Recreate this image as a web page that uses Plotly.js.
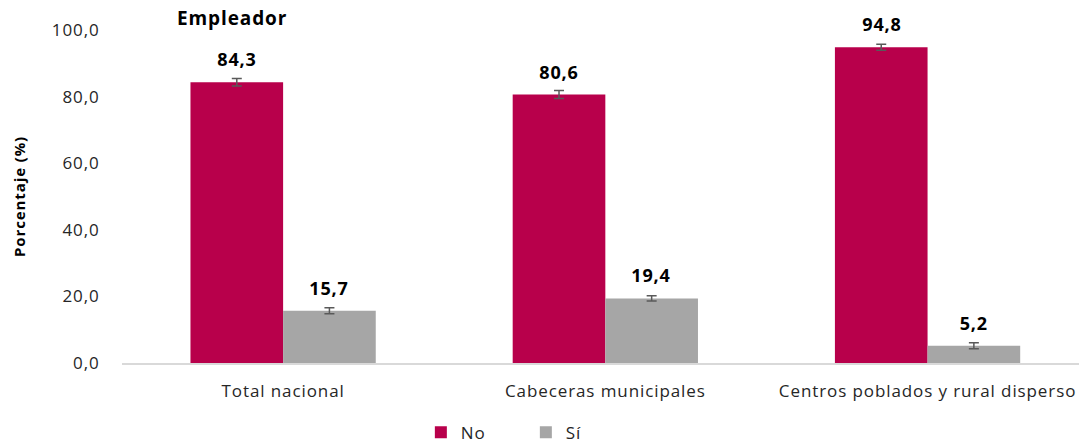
<!DOCTYPE html>
<html><head><meta charset="utf-8">
<script src="https://cdn.plot.ly/plotly-3.0.1.min.js"></script>
<style>html,body{margin:0;padding:0;background:#fff}#c{width:1079px;height:447px}
#c text{letter-spacing:0.9px}</style>
</head><body><div id="c"></div>
<script>
const categories = ["Total nacional", "Cabeceras municipales", "Centros poblados y rural disperso"];
const seriesNames = ["No", "Sí"];
const noValues = [84.3, 80.6, 94.8];
const siValues = [15.7, 19.4, 5.2];
const noErrors = [1.1, 1.2, 0.9];
const siErrors = [0.9, 0.8, 0.9];
const yTicks = [0, 20, 40, 60, 80, 100];
const yTickLabels = ["0,0", "20,0", "40,0", "60,0", "80,0", "100,0"];
const fmt = v => v.toFixed(1).replace(".", ",");

const colors = ["#B8004B", "#A6A6A6"];
const font = "'Open Sans', 'Noto Sans', sans-serif";

const traces = [
  {type: "bar", name: seriesNames[0], x: categories, y: noValues, marker: {color: colors[0]},
   error_y: {type: "data", array: noErrors, visible: true, color: "#595959", thickness: 1.5, width: 5}},
  {type: "bar", name: seriesNames[1], x: categories, y: siValues, marker: {color: colors[1]},
   error_y: {type: "data", array: siErrors, visible: true, color: "#595959", thickness: 1.5, width: 5}}
];

const annotations = [];
[noValues, siValues].forEach((vals, s) => {
  vals.forEach((v, i) => {
    annotations.push({x: categories[i], y: v, xref: "x", yref: "y", text: "<b>" + fmt(v) + "</b>",
      showarrow: false, yanchor: "bottom", yshift: 9, xshift: s === 0 ? -46 : 46,
      font: {family: font, size: 18, color: "#000"}});
  });
});
annotations.push({xref: "paper", yref: "paper", x: 0.06, y: 1, yanchor: "bottom", yshift: -3, xanchor: "left",
  text: "<b>Empleador</b>", showarrow: false, font: {family: font, size: 19, color: "#000"}});

const layout = {
  width: 1079, height: 447,
  margin: {l: 122, r: 0, t: 30, b: 84, autoexpand: false},
  paper_bgcolor: "#fff", plot_bgcolor: "#fff",
  barmode: "group", bargap: 0.425, bargroupgap: 0,
  font: {family: font, size: 17, color: "#262626"},
  xaxis: {range: [-0.5, 2.47], showgrid: false, showline: true, linecolor: "#D9D9D9", linewidth: 1.5,
    ticks: "outside", ticklen: 12, tickcolor: "rgba(0,0,0,0)", tickfont: {size: 17, color: "#262626"}, fixedrange: true},
  yaxis: {range: [0, 100], tickvals: yTicks, ticktext: yTickLabels, showgrid: false, zeroline: false, showline: false,
    ticks: "outside", ticklen: 18, tickcolor: "rgba(0,0,0,0)", tickfont: {size: 17, color: "#262626"},
    title: {text: "<b>Porcentaje (%)</b>", font: {size: 15, color: "#000"}, standoff: 27}},
  legend: {orientation: "h", x: 0.422, xanchor: "center", y: -0.155, yanchor: "top",
    entrywidth: 60, font: {size: 17, color: "#262626"}},
  annotations: annotations,
  showlegend: true
};
Plotly.newPlot("c", traces, layout, {displayModeBar: false, staticPlot: true});
</script></body></html>
